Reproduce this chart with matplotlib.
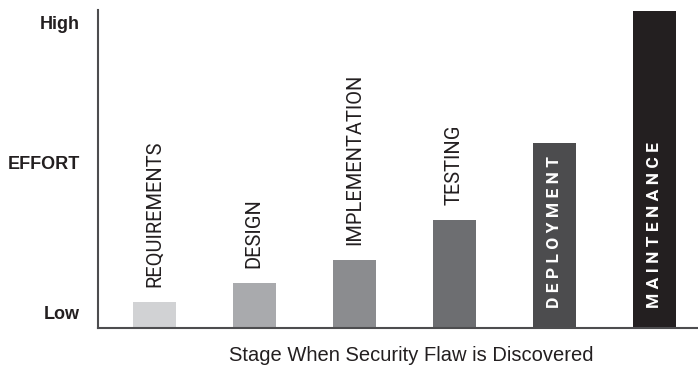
import matplotlib
matplotlib.use("Agg")
import matplotlib.pyplot as plt

stages = ["REQUIREMENTS", "DESIGN", "IMPLEMENTATION", "TESTING", "DEPLOYMENT", "MAINTENANCE"]
effort = [8.2, 14.0, 21.4, 34.0, 58.3, 99.8]
shades = ["#d1d2d4", "#a9aaad", "#8b8c8f", "#6d6e71", "#4c4c4e", "#231f20"]
inside = [False, False, False, False, True, True]

tick_pos = [5.0, 52.0, 96.0]
tick_names = ["Low", "EFFORT", "High"]

narrow = ["Roboto", "DejaVu Sans"]
plain = ["Liberation Sans", "DejaVu Sans"]

fig = plt.figure(figsize=(6.98, 3.65), dpi=100)
ax = fig.add_axes([98 / 698, 37 / 365, 600 / 698, 318 / 365])

x = list(range(len(stages)))
ax.bar(x, effort, width=0.433, color=shades)

for i in x:
    if inside[i]:
        # spaced-out white caps running up the dark bars
        ax.annotate(" ".join(stages[i]), (i, 0), xytext=(0, 14.5), textcoords="offset points",
                    rotation=90, ha="center", va="bottom", color="white",
                    fontsize=12.5, fontweight="bold", family=narrow)
    else:
        ax.annotate(stages[i], (i, effort[i]), xytext=(0, 11), textcoords="offset points",
                    rotation=90, ha="center", va="bottom", color="#231f20",
                    fontsize=14.5, family=narrow)

ax.set_xlim(-0.563, 5.437)
ax.set_ylim(0, 100)
ax.set_xticks([])
ax.set_yticks(tick_pos)
ax.set_yticklabels(tick_names, fontsize=13, fontweight="bold", family=plain, color="#231f20")
ax.tick_params(axis="y", length=0, pad=13)

for s in ["top", "right"]:
    ax.spines[s].set_visible(False)
for s in ["left", "bottom"]:
    ax.spines[s].set_color("#4d4d4f")
    ax.spines[s].set_linewidth(1.5)

ax.set_xlabel("Stage When Security Flaw is Discovered", fontsize=14.5, family=plain, color="#231f20")
ax.xaxis.set_label_coords((411 - 98) / 600, -0.085)
ax.xaxis.label.set_va("center")

fig.savefig("out.png", dpi=100)
